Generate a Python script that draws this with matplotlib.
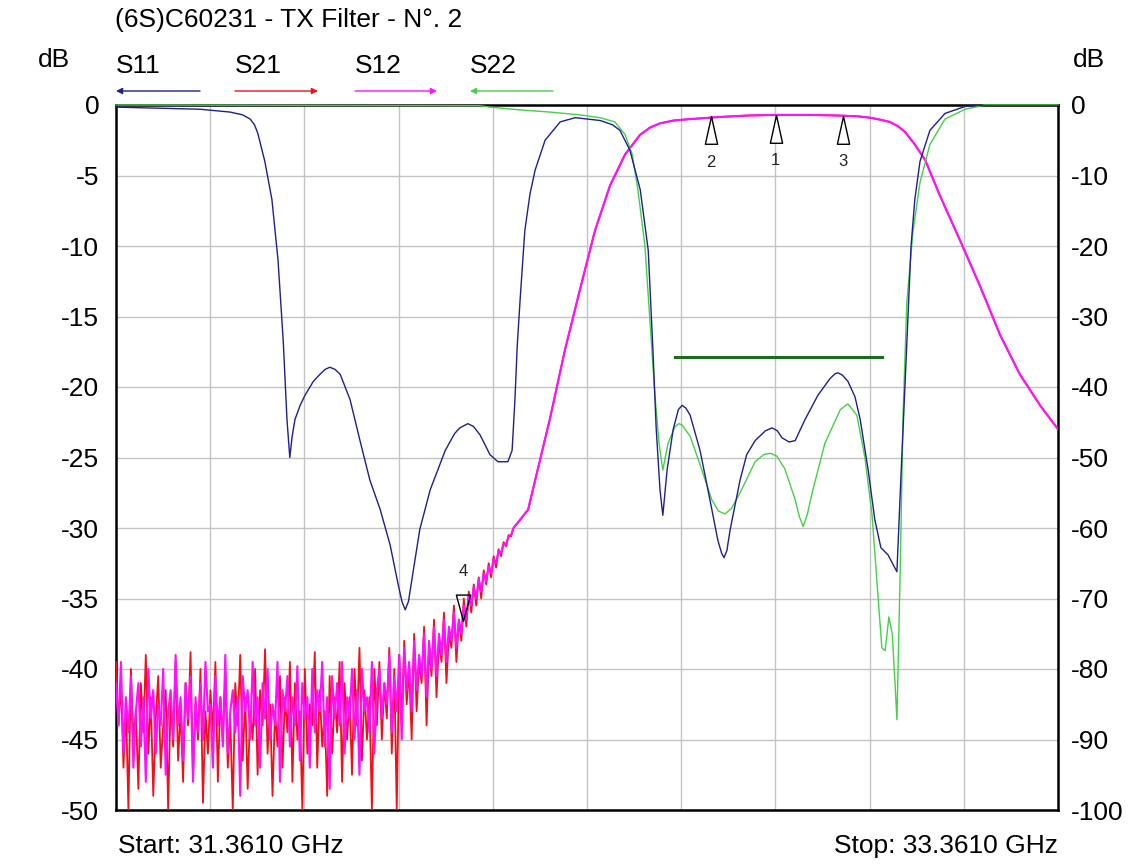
import numpy as np
import matplotlib.pyplot as plt

plt.rcParams['font.family'] = ['Liberation Sans', 'DejaVu Sans']
plt.rcParams['axes.unicode_minus'] = False

F_START, F_STOP = 31.361, 33.361

# S11 - blue
s11_f = [31.361, 31.539, 31.603, 31.630, 31.646, 31.655, 31.662, 31.677, 31.692, 31.705,
         31.716, 31.724, 31.730, 31.735, 31.741, 31.752, 31.762, 31.780, 31.794, 31.805,
         31.815, 31.826, 31.837, 31.858, 31.879, 31.900, 31.922, 31.943, 31.960, 31.968,
         31.975, 31.982, 31.989, 32.006, 32.028, 32.060, 32.080, 32.091, 32.108, 32.120,
         32.134, 32.155, 32.172, 32.193, 32.202, 32.208, 32.213, 32.219, 32.229, 32.240,
         32.251, 32.272, 32.304, 32.336, 32.389, 32.415, 32.431, 32.452, 32.474, 32.491,
         32.501, 32.508, 32.516, 32.522, 32.531, 32.544, 32.555, 32.563, 32.571, 32.580,
         32.601, 32.622, 32.639, 32.647, 32.652, 32.658, 32.665, 32.686, 32.700, 32.718,
         32.740, 32.754, 32.765, 32.775, 32.790, 32.803, 32.824, 32.851, 32.877, 32.888,
         32.894, 32.903, 32.915, 32.930, 32.941, 32.958, 32.972, 32.985, 33.000, 33.011,
         33.019, 33.028, 33.036, 33.049, 33.057, 33.068, 33.089, 33.121, 33.164, 33.206,
         33.361]
s11_db = [-0.15, -0.3, -0.5, -0.7, -1.0, -1.4, -2.0, -4.0, -6.7, -11.0,
          -16.7, -22.3, -25.0, -23.5, -22.3, -21.3, -20.6, -19.6, -19.1, -18.75,
          -18.6, -18.75, -19.1, -20.9, -23.8, -26.6, -28.7, -31.2, -34.0, -35.2,
          -35.8, -35.2, -33.7, -30.1, -27.3, -24.5, -23.3, -22.9, -22.6, -22.8,
          -23.4, -24.8, -25.3, -25.3, -24.5, -20.9, -17.0, -13.8, -8.9, -6.3,
          -4.6, -2.5, -1.2, -0.9, -1.1, -1.4, -1.8, -3.2, -6.0, -10.3,
          -17.4, -23.0, -27.3, -29.1, -25.9, -23.0, -21.6, -21.3, -21.5, -22.0,
          -24.5, -28.0, -30.9, -31.8, -32.1, -31.6, -30.1, -26.6, -24.8, -23.8,
          -23.1, -22.9, -23.1, -23.6, -23.9, -23.8, -22.3, -20.6, -19.4, -19.05,
          -19.0, -19.15, -19.6, -20.7, -22.3, -25.9, -29.4, -31.4, -31.9, -32.6,
          -33.1, -26.0, -20.0, -10.0, -6.7, -4.0, -1.8, -0.6, -0.1, 0.0,
          0.0]

# S22 - green
s22_f = [31.361, 32.134, 32.155, 32.219, 32.282, 32.346, 32.389, 32.420, 32.442, 32.457,
         32.469, 32.484, 32.495, 32.505, 32.514, 32.522, 32.533, 32.548, 32.556, 32.563,
         32.580, 32.601, 32.626, 32.640, 32.654, 32.668, 32.686, 32.718, 32.736, 32.750,
         32.764, 32.781, 32.803, 32.812, 32.820, 32.829, 32.839, 32.866, 32.899, 32.915,
         32.934, 32.951, 32.966, 32.977, 32.987, 32.994, 33.002, 33.009, 33.015, 33.019,
         33.026, 33.032, 33.040, 33.053, 33.068, 33.089, 33.121, 33.164, 33.206, 33.361]
s22_db = [0.0, -0.05, -0.15, -0.35, -0.5, -0.7, -0.9, -1.2, -2.1, -3.5,
          -6.0, -10.0, -15.5, -20.5, -24.0, -25.9, -24.0, -22.8, -22.6, -22.7,
          -23.5, -25.5, -28.0, -28.8, -29.0, -28.6, -27.5, -25.3, -24.8, -24.7,
          -24.9, -25.8, -28.0, -29.2, -29.9, -29.0, -27.5, -24.0, -21.6, -21.2,
          -22.0, -25.0, -29.0, -34.0, -38.5, -38.7, -36.3, -37.5, -41.0, -43.6,
          -33.0, -22.0, -14.0, -9.0, -5.5, -2.8, -1.0, -0.3, 0.0, 0.0]

# S21 / S12 noise floor at the low end of the sweep (31.361 .. 32.205 GHz)
s21_noise = [
    -39.5, -44, -41, -47, -42.5, -50, -40, -45, -43, -48.5, -41, -44.5, -39, -46, -42, -49,
    -43.5, -40.5, -47, -44, -41.5, -50, -42, -45.5, -39.5, -46.5, -43, -48, -41, -44, -38.8,
    -47.5, -42.5, -45, -40, -49.5, -43, -46, -41.5, -44.5, -39.5, -48, -42, -45, -40.5, -47,
    -43.5, -50, -41, -44, -39, -46.5, -42, -48.5, -43, -45, -40, -47.5, -41.5, -44, -38.6,
    -46, -42.5, -49, -43, -45.5, -40.5, -47, -42, -44.5, -39.5, -48, -41, -45, -43, -50,
    -40, -46, -42.5, -44, -38.8, -47, -41.5, -45.5, -43, -49, -40.5, -46, -42, -44.5, -39.5,
    -48, -41, -45, -42, -47.5, -40, -44, -38.5, -46.5, -41.5, -45, -42, -50, -40, -44,
    -39.5, -45, -41, -43.5, -38.5, -46, -40, -50, -39, -44, -38, -42.5, -40, -45, -37.5,
    -43, -39.5, -41, -37, -44, -38.5, -40.5, -36.5, -42, -38, -39.5, -36, -41, -37.5, -38.5,
    -35.5, -39.5, -36.5, -38, -35,
    -37, -34.5, -36, -34, -35.5, -33.5, -35, -33, -34, -32.5, -33.5, -32, -32.8, -31.5,
    -32, -31, -31.3, -30.5, -30.6, -30]
s12_noise = [
    -41, -44, -39.5, -46, -42, -44.5, -40.5, -47, -43, -41, -45.5, -42, -48, -40, -43.5,
    -41.5, -46, -42.5, -44, -40, -47.5, -43, -41.5, -45, -39, -44, -42, -46.5, -41, -43.5,
    -40.5, -48, -42, -44.5, -41, -45, -39.5, -43, -42.5, -47, -40.5, -44, -42, -45.5, -39,
    -46, -43, -41.5, -44.5, -42, -49, -40.5, -43, -41.5, -45, -39.5, -44, -42, -47, -41,
    -43.5, -40, -45, -42.5, -44, -39.5, -48, -41.5, -43, -40.5, -45.5, -42, -44, -39.8,
    -46.5, -41, -43.5, -42, -47, -40, -44.5, -41.5, -43, -39.5, -45.5, -42, -48.5, -40.5,
    -43.5, -41, -44, -39.5, -46, -42, -43.5, -40, -45, -41.5, -47.5, -40, -43, -42, -44.5,
    -39.5, -46, -41.5,
    -40, -43.5, -41, -42.5, -39, -44.5, -40.5, -43, -39, -45, -38.5, -41.5, -39.5, -43, -38,
    -41.5, -39, -40.5, -37.5, -42, -38, -40, -37, -40.5, -37.5, -39, -36.5, -39.5, -37, -38,
    -36, -38.5, -36.5, -37.5, -35.5,
    -36.5, -34.8, -35.5, -34.2, -35, -33.6, -34.5, -33.2, -33.8, -32.7, -33.2, -32.2, -32.5,
    -31.6, -31.8, -31.1, -31.2, -30.6, -30.5, -30]
NOISE_END = 32.205

# S21 / S12 passband part (shared)
pass_f = [32.236, 32.251, 32.282, 32.314, 32.346, 32.378, 32.410, 32.442, 32.474, 32.495,
          32.516, 32.545, 32.580, 32.643, 32.700, 32.762, 32.830, 32.898, 32.935, 32.962,
          32.985, 33.004, 33.021, 33.036, 33.057, 33.079, 33.110, 33.153, 33.195, 33.238,
          33.280, 33.323, 33.361]
pass_db = [-28.7, -26.6, -22.3, -17.4, -13.1, -8.9, -5.7, -3.5, -2.1, -1.6,
           -1.3, -1.1, -1.0, -0.85, -0.75, -0.7, -0.7, -0.75, -0.8, -0.9,
           -1.05, -1.2, -1.5, -1.9, -2.8, -3.9, -6.4, -9.6, -12.8, -16.3,
           -19.1, -21.3, -23.0]

# markers
mk_f = [32.762, 32.624, 32.905]
mk_db = [-0.7, -0.8, -0.75]
mk_lbl = ['1', '2', '3']
mk4_f, mk4_db = 32.098, -36.6

mask_f = [32.547, 32.987]
mask_db = [-17.9, -17.9]

C_S11 = '#1f1f8f'
C_S21 = '#f01018'
C_S12 = '#ff10ff'
C_S22 = '#45d045'

fig = plt.figure(figsize=(11.33, 8.66), dpi=100)
W, H = 1133, 866
ax = fig.add_axes([116 / W, 1 - 810 / H, 942 / W, 705 / H])

f21 = np.concatenate([np.linspace(F_START, NOISE_END, len(s21_noise)), pass_f])
d21 = np.concatenate([s21_noise, pass_db])
f12 = np.concatenate([np.linspace(F_START, NOISE_END, len(s12_noise)), pass_f])
d12 = np.concatenate([s12_noise, pass_db])

ax.plot(f21, d21, color=C_S21, lw=1.3, zorder=3)
ax.plot(f12, d12, color=C_S12, lw=1.5, zorder=4)
ax.plot(s22_f, s22_db, color=C_S22, lw=1.0, zorder=5, clip_on=False)
ax.plot(s11_f, s11_db, color=C_S11, lw=1.0, zorder=6)
ax.plot(mask_f, mask_db, color='#1d6b1d', lw=2.2, zorder=7)

# marker triangles with their tips on the trace
up_tri = [(0, 0), (-0.22, -1), (0.22, -1), (0, 0)]
ax.plot(mk_f, mk_db, ls='none', marker=up_tri, ms=40, mfc='white', mec='black',
        mew=1.0, zorder=8)
for f, d, t in zip(mk_f, mk_db, mk_lbl):
    ax.annotate(t, (f, d), xytext=(0, -33), textcoords='offset points',
                ha='center', va='center', fontsize=12, color='#222222', zorder=9)
dn_tri = [(0, 0), (-0.27, 1), (0.27, 1), (0, 0)]
ax.plot([mk4_f], [mk4_db], ls='none', marker=dn_tri, ms=38, mfc='none', mec='black',
        mew=1.0, zorder=8)
ax.annotate('4', (mk4_f, mk4_db), xytext=(0, 36), textcoords='offset points',
            ha='center', va='center', fontsize=12, color='#222222', zorder=9)

ax.set_xlim(F_START, F_STOP)
ax.set_ylim(-50, 0)
ax.set_xticks(np.linspace(F_START, F_STOP, 11))
ax.set_xticklabels([])
ax.set_yticks(np.arange(-50, 1, 5))
ax.grid(True, color='#c4c4c4', lw=1.0)
ax.tick_params(length=0, labelsize=19, pad=12)
for s in ax.spines.values():
    s.set_linewidth(1.8)
    s.set_zorder(2)

ax2 = ax.twinx()
ax2.set_ylim(-100, 0)
ax2.set_yticks(np.arange(-100, 1, 10))
ax2.tick_params(length=0, labelsize=19, pad=9)
for s in ax2.spines.values():
    s.set_visible(False)

fs = 19
fig.text(115 / W, 1 - 20 / H, '(6S)C60231 - TX Filter - N°. 2', fontsize=fs, va='center')
fig.text(38 / W, 1 - 60 / H, 'dB', fontsize=fs, va='center')
fig.text(1073 / W, 1 - 60 / H, 'dB', fontsize=fs, va='center')
fig.text(118 / W, 1 - 846 / H, 'Start: 31.3610 GHz', fontsize=fs, va='center')
fig.text(1058 / W, 1 - 846 / H, 'Stop: 33.3610 GHz', fontsize=fs, va='center', ha='right')

legend = [('S11', C_S11, 116, 200, 'left'), ('S21', C_S21, 235, 318, 'right'),
          ('S12', C_S12, 355, 437, 'right'), ('S22', C_S22, 470, 553, 'left')]
for name, col, x0, x1, direction in legend:
    fig.text(x0 / W, 1 - 66 / H, name, fontsize=fs, va='center')
    if direction == 'left':
        tip, tail = x0, x1
    else:
        tip, tail = x1, x0
    ax.annotate('', xy=(tip, H - 91), xytext=(tail, H - 91), xycoords='figure pixels',
                textcoords='figure pixels',
                arrowprops=dict(arrowstyle='-|>', color=col, lw=1.0, mutation_scale=9,
                                shrinkA=0, shrinkB=0))

fig.savefig('out.png', dpi=100)
